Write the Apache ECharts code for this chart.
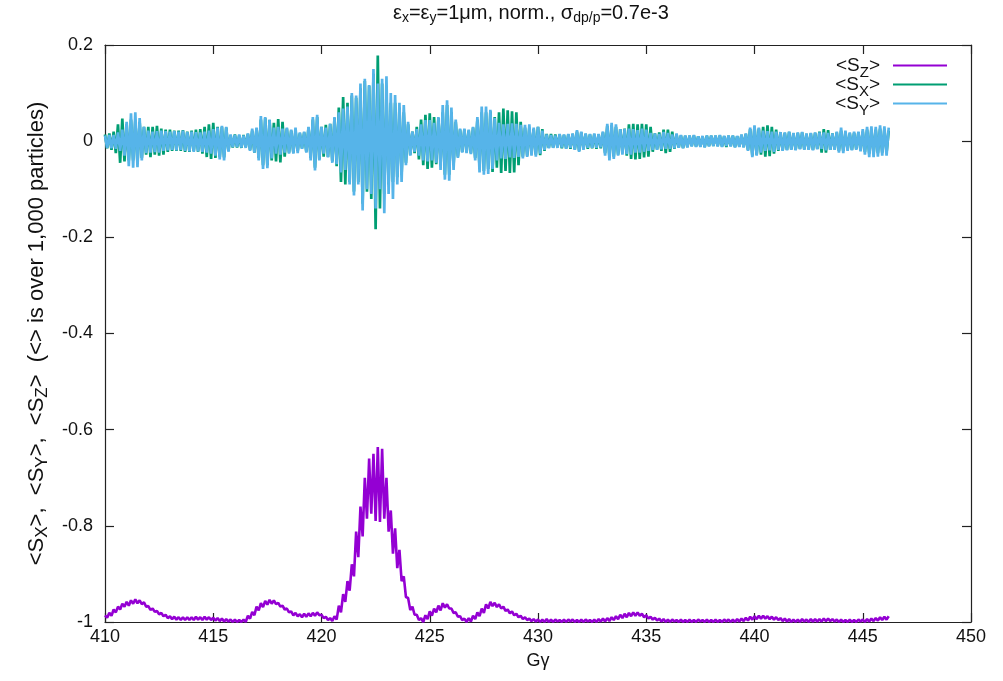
<!DOCTYPE html>
<html>
<head>
<meta charset="utf-8">
<title>Spin components vs G-gamma</title>
<script src="https://cdn.jsdelivr.net/npm/echarts@6/dist/echarts.min.js"></script>
<style>
  html, body { margin: 0; padding: 0; background: #ffffff; }
  #chart { width: 1003px; height: 681px; }
</style>
</head>
<body>
<div id="chart"></div>
<script>
// Sampling grid along G-gamma: one sample every 0.1 starting at 410.0
const gammaStart = 410.0;
const gammaStep = 0.1;

// Axis ticks
const xTicks = [410, 415, 420, 425, 430, 435, 440, 445, 450];
const yTicks = [-1, -0.8, -0.6, -0.4, -0.2, 0, 0.2];

// <S_Z> averaged over 1,000 particles (one row per unit of G-gamma)
const sz = [
  -.986,-.991,-.981,-.987,-.974,-.980,-.968,-.974,-.962,-.968,
  -.958,-.966,-.955,-.962,-.953,-.961,-.955,-.963,-.959,-.968,
  -.967,-.975,-.972,-.979,-.977,-.984,-.981,-.988,-.985,-.992,
  -.988,-.994,-.989,-.995,-.990,-.996,-.990,-.996,-.990,-.996,
  -.990,-.996,-.989,-.995,-.990,-.996,-.989,-.995,-.990,-.996,
  -.991,-.997,-.992,-.998,-.993,-.999,-.994,-.999,-.995,-1.0,
  -.995,-1.0,-.996,-1.0,-.995,-1.0,-.987,-.993,-.979,-.986,
  -.968,-.976,-.961,-.969,-.956,-.964,-.954,-.962,-.955,-.963,
  -.960,-.968,-.966,-.974,-.972,-.980,-.978,-.986,-.981,-.988,
  -.984,-.990,-.983,-.989,-.982,-.988,-.981,-.987,-.980,-.986,
  -.985,-.992,-.989,-.996,-.992,-.998,-.988,-.995,-.966,-.980,
  -.942,-.958,-.915,-.935,-.880,-.905,-.812,-.865,-.760,-.822,
  -.700,-.785,-.660,-.775,-.650,-.790,-.636,-.792,-.640,-.785,
  -.700,-.812,-.768,-.858,-.805,-.888,-.850,-.915,-.905,-.948,
  -.950,-.975,-.968,-.985,-.985,-.996,-.992,-1.0,-.986,-.994,
  -.978,-.987,-.972,-.980,-.966,-.976,-.961,-.970,-.963,-.972,
  -.972,-.981,-.980,-.989,-.988,-.996,-.993,-1.0,-.992,-.999,
  -.987,-.994,-.980,-.988,-.972,-.981,-.963,-.972,-.958,-.967,
  -.960,-.969,-.963,-.972,-.968,-.977,-.974,-.982,-.978,-.986,
  -.983,-.990,-.987,-.994,-.990,-.996,-.993,-.998,-.994,-.999,
  -.995,-1.0,-.995,-1.0,-.994,-1.0,-.995,-1.0,-.995,-.999,
  -.996,-1.0,-.995,-1.0,-.995,-.999,-.995,-1.0,-.996,-1.0,
  -.995,-1.0,-.995,-.999,-.996,-1.0,-.995,-1.0,-.994,-.999,
  -.993,-.999,-.992,-.998,-.990,-.996,-.988,-.994,-.985,-.992,
  -.983,-.990,-.981,-.988,-.980,-.987,-.980,-.987,-.983,-.990,
  -.986,-.993,-.989,-.995,-.991,-.997,-.993,-.999,-.994,-1.0,
  -.995,-1.0,-.995,-.999,-.996,-1.0,-.995,-1.0,-.996,-1.0,
  -.995,-1.0,-.996,-1.0,-.995,-.999,-.996,-1.0,-.995,-1.0,
  -.996,-1.0,-.995,-1.0,-.996,-1.0,-.995,-.999,-.995,-1.0,
  -.995,-1.0,-.994,-.999,-.993,-.998,-.991,-.997,-.989,-.995,
  -.988,-.994,-.987,-.993,-.987,-.993,-.988,-.994,-.989,-.995,
  -.990,-.996,-.992,-.998,-.993,-.999,-.994,-1.0,-.995,-1.0,
  -.995,-1.0,-.994,-.999,-.995,-1.0,-.994,-.999,-.994,-.999,
  -.994,-.999,-.993,-.998,-.993,-.998,-.994,-.999,-.995,-1.0,
  -.995,-1.0,-.996,-1.0,-.995,-1.0,-.996,-1.0,-.995,-.999,
  -.995,-1.0,-.994,-.999,-.993,-.998,-.992,-.997,-.990,-.996,
  -.989,-.995,-.988
];

// <S_X> averaged over 1,000 particles
const sx = [
  .014,-.015,.016,-.018,.020,-.025,.035,-.045,.047,-.042,
  .035,-.040,.045,-.040,.042,-.045,.040,-.035,.030,-.028,
  .030,-.033,.030,-.028,.032,-.030,.026,-.028,.024,-.022,
  .024,-.020,.022,-.020,.022,-.020,.023,-.022,.020,-.022,
  .022,-.020,.024,-.022,.025,-.026,.030,-.033,.035,-.037,
  .038,-.035,.030,-.033,.030,-.034,.028,-.020,.012,-.013,
  .014,-.013,.012,-.014,.013,-.012,.015,-.018,.022,-.024,
  .026,-.035,.045,-.050,.048,-.050,.044,-.040,.038,-.042,
  .046,-.044,.040,-.032,.026,-.024,.022,-.024,.022,-.020,
  .016,-.015,.018,-.022,.028,-.035,.045,-.055,.050,-.038,
  .030,-.032,.034,-.033,.036,-.042,.048,-.052,.070,-.085,
  .092,-.090,.080,-.085,.095,-.105,.090,-.085,.110,-.130,
  .125,-.105,.115,-.120,.140,-.183,.178,-.140,.120,-.110,
  .100,-.090,.080,-.085,.080,-.075,.070,-.070,.060,-.045,
  .035,-.028,.020,-.025,.030,-.038,.045,-.050,.055,-.058,
  .058,-.055,.050,-.048,.048,-.050,.060,-.070,.075,-.070,
  .060,-.050,.040,-.032,.024,-.022,.024,-.023,.022,-.025,
  .028,-.035,.045,-.055,.060,-.062,.060,-.058,.062,-.064,
  .050,-.055,.060,-.066,.068,-.062,.064,-.066,.062,-.065,
  .060,-.050,.040,-.032,.028,-.030,.028,-.026,.025,-.028,
  .030,-.029,.025,-.020,.015,-.014,.015,-.013,.014,-.012,
  .014,-.015,.013,-.015,.014,-.016,.015,-.017,.020,-.020,
  .018,-.016,.015,-.016,.014,-.015,.014,-.016,.014,-.015,
  .018,-.025,.032,-.034,.033,-.032,.030,-.028,.025,-.024,
  .026,-.030,.035,-.037,.036,-.038,.035,-.037,.036,-.034,
  .035,-.032,.030,-.022,.016,-.017,.018,-.020,.024,-.025,
  .024,-.022,.020,-.016,.014,-.013,.012,-.014,.011,-.012,
  .011,-.010,.012,-.011,.010,-.011,.010,-.012,.011,-.010,
  .011,-.010,.011,-.010,.012,-.011,.010,-.012,.011,-.010,
  .011,-.012,.010,-.011,.013,-.012,.015,-.018,.025,-.030,
  .030,-.028,.026,-.028,.030,-.032,.033,-.031,.030,-.026,
  .024,-.020,.018,-.019,.017,-.018,.019,-.017,.016,-.018,
  .017,-.016,.018,-.017,.015,-.017,.016,-.018,.017,-.016,
  .020,-.024,.025,-.024,.023,-.018,.016,-.017,.018,-.020,
  .022,-.020,.018,-.017,.016,-.018,.017,-.016,.018,-.019,
  .020,-.022,.024,-.026,.025,-.026,.024,-.025,.026,-.024,
  .025,-.024,.022
];

// <S_Y> averaged over 1,000 particles
const sy = [
  .012,-.014,.013,-.015,.013,-.016,.018,-.020,.024,-.030,
  .040,-.052,.058,-.055,.060,-.054,.048,-.040,.030,-.025,
  .022,-.024,.020,-.023,.021,-.024,.022,-.020,.021,-.019,
  .020,-.018,.021,-.019,.020,-.018,.022,-.020,.019,-.021,
  .020,-.022,.019,-.021,.018,-.022,.020,-.024,.022,-.026,
  .025,-.030,.028,-.038,.032,-.040,.030,-.022,.014,-.012,
  .013,-.012,.014,-.013,.012,-.014,.016,-.020,.026,-.024,
  .028,-.040,.052,-.058,.050,-.056,.045,-.036,.028,-.026,
  .030,-.028,.026,-.024,.028,-.026,.024,-.026,.028,-.025,
  .018,-.016,.020,-.024,.030,-.040,.050,-.061,.055,-.040,
  .030,-.026,.028,-.034,.036,-.045,.050,-.048,.060,-.065,
  .068,-.060,.072,-.090,.100,-.113,.095,-.090,.120,-.144,
  .130,-.100,.117,-.110,.150,-.140,.120,-.100,.130,-.150,
  .135,-.110,.100,-.120,.096,-.090,.080,-.085,.075,-.050,
  .040,-.030,.020,-.022,.025,-.030,.035,-.040,.044,-.042,
  .044,-.040,.038,-.045,.050,-.060,.075,-.080,.085,-.082,
  .070,-.060,.045,-.035,.026,-.024,.026,-.025,.024,-.027,
  .030,-.040,.050,-.065,.072,-.070,.072,-.068,.065,-.058,
  .048,-.040,.038,-.036,.035,-.037,.036,-.034,.037,-.035,
  .036,-.033,.034,-.036,.034,-.033,.035,-.030,.028,-.032,
  .030,-.026,.022,-.018,.014,-.015,.013,-.014,.012,-.014,
  .015,-.013,.014,-.016,.015,-.014,.016,-.018,.023,-.022,
  .020,-.018,.016,-.014,.015,-.014,.016,-.014,.015,-.013,
  .020,-.030,.036,-.040,.038,-.037,.035,-.030,.025,-.028,
  .025,-.027,.026,-.028,.025,-.024,.023,-.024,.026,-.022,
  .024,-.020,.017,-.018,.016,-.018,.015,-.017,.019,-.016,
  .017,-.016,.014,-.015,.016,-.014,.013,-.015,.012,-.013,
  .012,-.011,.013,-.012,.010,-.012,.011,-.013,.012,-.011,
  .012,-.010,.012,-.011,.013,-.012,.011,-.010,.012,-.011,
  .012,-.013,.011,-.012,.014,-.013,.016,-.020,.028,-.033,
  .033,-.030,.028,-.024,.022,-.020,.021,-.019,.020,-.022,
  .020,-.018,.019,-.020,.018,-.019,.020,-.018,.017,-.019,
  .018,-.017,.019,-.018,.016,-.018,.017,-.019,.018,-.017,
  .018,-.016,.018,-.019,.017,-.018,.016,-.018,.020,-.024,
  .028,-.025,.022,-.020,.018,-.019,.020,-.018,.020,-.021,
  .025,-.028,.030,-.033,.031,-.033,.030,-.032,.033,-.030,
  .031,-.030,.028
];

const seriesNames = ['Sz', 'Sx', 'Sy'];
const seriesColors = ['#9400d3', '#009e73', '#56b4e9'];
const seriesWidths = [2.6, 2.7, 2.7];
const legendSub = { Sz: 'Z', Sx: 'X', Sy: 'Y' };

function pairs(values) {
  return values.map((v, i) => [gammaStart + i * gammaStep, v]);
}

const FONT = '"Liberation Sans", Arial, Helvetica, sans-serif';
const TEXT = '#111111';
const FRAME = '#222222';

// rich-text styles: normal text plus a smaller subscript dropped by `drop` px
function richStyles(size, subSize, lineH, drop) {
  const subBox = Math.max(1, lineH - 2 * drop);
  return {
    a: { fontFamily: FONT, fontSize: size, fontWeight: 'normal', color: TEXT, lineHeight: lineH },
    s: { fontFamily: FONT, fontSize: subSize, fontWeight: 'normal', color: TEXT,
         height: subBox, lineHeight: subBox, verticalAlign: 'bottom' },
    g: { width: 8 }
  };
}

const chart = echarts.init(document.getElementById('chart'), null, { renderer: 'canvas' });

const frameAxis = {
  axisLine: { show: true, onZero: false, lineStyle: { color: FRAME, width: 1.2 } },
  axisTick: { show: true, inside: true, length: 9, lineStyle: { color: FRAME, width: 1.2 } },
  splitLine: { show: false },
  minorTick: { show: false }
};

const option = {
  animation: false,
  backgroundColor: '#ffffff',
  textStyle: { fontFamily: FONT, color: TEXT },
  title: {
    text: '{a|ε}{s|x}{a|=ε}{s|y}{a|=1μm, norm., σ}{s|dp/p}{a|=0.7e-3}',
    left: 393,
    top: 2,
    padding: 0,
    textStyle: { fontFamily: FONT, fontWeight: 'normal', rich: richStyles(20, 14, 22, 5) }
  },
  legend: {
    orient: 'vertical',
    right: 56,
    top: 56,
    align: 'right',
    icon: 'rect',
    itemWidth: 54,
    itemHeight: 2,
    itemGap: -5,
    padding: 0,
    selectedMode: false,
    data: seriesNames,
    formatter: name => '{a|<S}{s|' + legendSub[name] + '}{a|>}{g|}',
    textStyle: { fontFamily: FONT, rich: richStyles(19, 15, 19, 7) }
  },
  grid: { left: 105, right: 32, top: 45, bottom: 59, containLabel: false },
  xAxis: [
    Object.assign({
      type: 'value',
      position: 'bottom',
      min: xTicks[0],
      max: xTicks[xTicks.length - 1],
      interval: xTicks[1] - xTicks[0],
      axisLabel: { show: true, fontFamily: FONT, fontSize: 18, color: TEXT, margin: 6 },
      name: 'Gγ',
      nameLocation: 'middle',
      nameGap: 30,
      nameTextStyle: { fontFamily: FONT, fontSize: 18, color: TEXT }
    }, frameAxis),
    Object.assign({
      type: 'value',
      position: 'top',
      min: xTicks[0],
      max: xTicks[xTicks.length - 1],
      interval: xTicks[1] - xTicks[0],
      axisLabel: { show: false }
    }, frameAxis)
  ],
  yAxis: [
    Object.assign({
      type: 'value',
      position: 'left',
      min: yTicks[0],
      max: yTicks[yTicks.length - 1],
      interval: 0.2,
      axisLabel: {
        show: true, fontFamily: FONT, fontSize: 18, color: TEXT, margin: 12,
        formatter: v => String(Math.round(v * 10) / 10)
      },
      name: '{a|<S}{s|X}{a|>,  <S}{s|Y}{a|>,  <S}{s|Z}{a|>  (<> is over 1,000 particles)}',
      nameLocation: 'middle',
      nameGap: 57,
      nameTextStyle: { fontFamily: FONT, rich: richStyles(22, 17, 23, 6) }
    }, frameAxis),
    Object.assign({
      type: 'value',
      position: 'right',
      min: yTicks[0],
      max: yTicks[yTicks.length - 1],
      interval: 0.2,
      axisLabel: { show: false }
    }, frameAxis)
  ],
  series: [
    { name: 'Sz', data: pairs(sz) },
    { name: 'Sx', data: pairs(sx) },
    { name: 'Sy', data: pairs(sy) }
  ].map((s, i) => ({
    name: s.name,
    type: 'line',
    xAxisIndex: 0,
    yAxisIndex: 0,
    data: s.data,
    showSymbol: false,
    symbol: 'none',
    sampling: null,
    clip: true,
    z: 2 + i,
    color: seriesColors[i],
    lineStyle: { color: seriesColors[i], width: seriesWidths[i], join: 'bevel' },
    emphasis: { disabled: true }
  }))
};

chart.setOption(option);
</script>
</body>
</html>
